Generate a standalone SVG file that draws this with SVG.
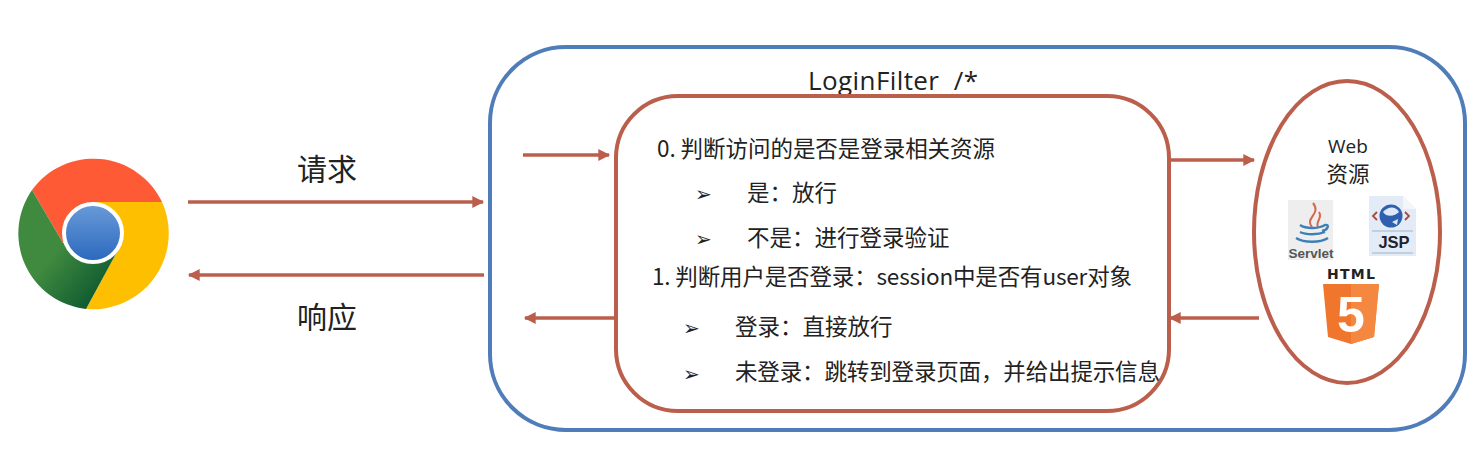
<svg xmlns="http://www.w3.org/2000/svg" width="1480" height="466" viewBox="0 0 1480 466">
<style>
text{font-family:"Noto Sans CJK SC","Noto Sans",sans-serif;fill:#222}
.t{font-size:22.5px}
.b{font-size:20px;font-family:"DejaVu Sans",sans-serif;fill:#222}
.c{fill:none;stroke:#bb5f4c;stroke-width:4}
.a{fill:none;stroke:#bb5f4c;stroke-width:3.5;marker-end:url(#ah)}
</style>
<defs>
<marker id="ah" viewBox="0 0 10 10" refX="9" refY="5" markerWidth="4.2" markerHeight="3.4" orient="auto"><path d="M0 0L10 5L0 10Z" fill="#bb5f4c"/></marker>
<linearGradient id="blue" x1="0" y1="0" x2="0" y2="1"><stop offset="0" stop-color="#6a9bd8"/><stop offset="1" stop-color="#2a68bd"/></linearGradient>
<linearGradient id="green" x1="0" y1="0" x2="1" y2="1"><stop offset="0.45" stop-color="#3f8a3f"/><stop offset="0.85" stop-color="#0f5a30"/></linearGradient>
</defs>
<rect width="1480" height="466" fill="#fff"/>
<g id="browser">
<path d="M32 190A76 76 0 0 1 162 202L93 202L63 243Z" fill="#fd5a35"/>
<path d="M162 202A76 76 0 0 1 86 309L118 250L93 202Z" fill="#fdbf00"/>
<path d="M32 190A76 76 0 0 0 86 309L118 250L63 243Z" fill="url(#green)"/>
<circle cx="93" cy="233" r="29" fill="url(#blue)" stroke="#fff" stroke-width="4"/>
</g>
<g id="login-filter">
<rect x="490" y="47" width="975" height="383" rx="76" fill="#fff" stroke="#4f7db9" stroke-width="4"/>
<text x="808" y="90" font-size="26" style="font-family:'Open Sans',sans-serif" textLength="170" xml:space="preserve">LoginFilter  /*</text>
</g>
<g id="filter-logic">
<rect x="616" y="96" width="553" height="315" rx="62" fill="#fff" class="c"/>
<text class="t" x="657" y="157" textLength="338">0. 判断访问的是否是登录相关资源</text>
<text class="b" x="695" y="201">➢</text>
<text class="t" x="747" y="201">是：放行</text>
<text class="b" x="695" y="246">➢</text>
<text class="t" x="747" y="246">不是：进行登录验证</text>
<text class="t" x="652" y="285" textLength="480">1. 判断用户是否登录：session中是否有user对象</text>
<text class="b" x="683" y="335">➢</text>
<text class="t" x="735" y="335">登录：直接放行</text>
<text class="b" x="683" y="381">➢</text>
<text class="t" x="735" y="380" textLength="425">未登录：跳转到登录页面，并给出提示信息</text>
</g>
<g id="web-resources">
<ellipse cx="1347" cy="232" rx="93" ry="151" fill="#fff" class="c"/>
<text x="1348" y="153" font-size="19" text-anchor="middle" style="font-family:'Open Sans',sans-serif">Web</text>
<text x="1348" y="182" font-size="21.5" text-anchor="middle">资源</text>
<g id="servlet-icon">
<rect x="1288" y="200" width="45" height="60" fill="#eeeeee"/>
<path d="M1313 203C1322 214 1304 218 1312 227M1319 212C1323 218 1315 222 1318 227" fill="none" stroke="#d9654a" stroke-width="2"/>
<path d="M1300 225C1306 229 1318 229 1325 225C1330 224 1328 230 1322 231M1300 232C1306 235 1318 235 1325 232M1296 238C1304 243 1320 243 1328 238" fill="none" stroke="#3f7fb8" stroke-width="2.4"/>
<text x="1311" y="258" font-size="13.5" font-weight="700" text-anchor="middle" style="font-family:'Liberation Sans',sans-serif;fill:#555">Servlet</text>
</g>
<g id="jsp-icon">
<path d="M1369 196H1403L1416 209V256H1369Z" fill="#e3ebf6"/>
<path d="M1403 196L1416 209H1403Z" fill="#f5f6f9"/>
<circle cx="1391" cy="216" r="11.5" fill="#2f5fae"/>
<path d="M1383 212C1388 206 1396 206 1399 212C1395 216 1387 218 1383 212ZM1392 222L1398 219L1397 225Z" fill="#dce8f6"/>
<path d="M1377 212L1373 216L1377 220M1405 212L1409 216L1405 220" fill="none" stroke="#a64a3c" stroke-width="1.8"/>
<path d="M1372 231H1413M1372 253H1413" stroke="#9fb4d0" stroke-width="1.2"/>
<text x="1394" y="248" font-size="16.5" font-weight="700" text-anchor="middle" style="font-family:'Liberation Sans',sans-serif;fill:#1c2230">JSP</text>
</g>
<g id="html5-icon">
<text x="1351" y="279" font-size="14" font-weight="700" text-anchor="middle" textLength="48" style="font-family:'DejaVu Sans',sans-serif;fill:#222">HTML</text>
<path d="M1323 284H1379L1374 337L1351 344L1328 337Z" fill="#f0762e"/>
<path d="M1351 284H1379L1374 337L1351 344Z" fill="#f58840"/>
<text x="1351" y="332" font-size="50" font-weight="700" text-anchor="middle" style="font-family:'Liberation Sans',sans-serif;fill:#fff">5</text>
</g>
</g>
<g id="connectors">
<path class="a" d="M188 202H483"/>
<path class="a" d="M484 275H189"/>
<path class="a" d="M523 155H609"/>
<path class="a" d="M614 318H525"/>
<path class="a" d="M1170 160H1254"/>
<path class="a" d="M1259 318H1170"/>
</g>
<text x="297" y="180" font-size="30">请求</text>
<text x="297" y="328" font-size="30">响应</text>
</svg>
